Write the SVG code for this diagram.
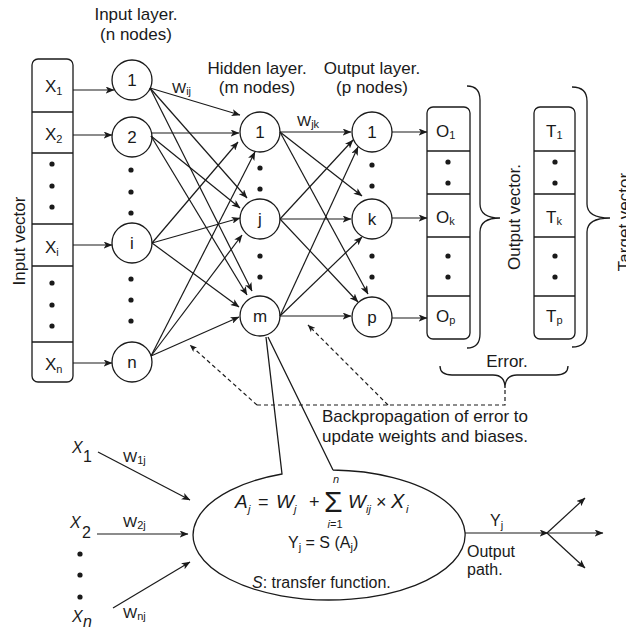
<svg xmlns="http://www.w3.org/2000/svg" width="626" height="631" viewBox="0 0 626 631">
<defs>
<style>
text{font-family:"Liberation Sans",Arial,Helvetica,sans-serif;fill:#1a1a1a}
.t17{font-size:17px}
.t16{font-size:16px}
.t15{font-size:15px}
.sub{font-size:11px}
.it{font-style:italic}
.mid{text-anchor:middle}
.node circle{fill:#fff;stroke:#1a1a1a;stroke-width:1.3}
.box rect{fill:#fff;stroke:#1a1a1a;stroke-width:1.3}
.box line{stroke:#1a1a1a;stroke-width:1.3}
.dot{fill:#1a1a1a}
.conn line,.conn path{stroke:#1a1a1a;stroke-width:1.2;fill:none}
.conn .a{marker-end:url(#ah)}
.dash{stroke-dasharray:4 3}
.brace{fill:none;stroke:#1a1a1a;stroke-width:1.3}
</style>
<marker id="ah" viewBox="0 0 10 8" refX="9.5" refY="4" markerWidth="9" markerHeight="7" markerUnits="userSpaceOnUse" orient="auto"><path d="M0,0 L10,4 L0,8 L2.5,4 z" fill="#1a1a1a"/></marker>
<marker id="ahs" viewBox="0 0 10 8" refX="9.5" refY="4" markerWidth="8" markerHeight="6" markerUnits="userSpaceOnUse" orient="auto"><path d="M0,0 L10,4 L0,8 L2.5,4 z" fill="#1a1a1a"/></marker>
</defs>
<rect width="626" height="631" fill="#fff"/>

<!-- Labels -->
<g id="labels">
<text class="t17 mid" x="136" y="20">Input layer.</text>
<text class="t17 mid" x="136" y="40">(n nodes)</text>
<text class="t17 mid" x="257" y="74">Hidden layer.</text>
<text class="t17 mid" x="257" y="93">(m nodes)</text>
<text class="t17 mid" x="372" y="74">Output layer.</text>
<text class="t17 mid" x="372" y="93">(p nodes)</text>
<text class="t17 mid" x="25" y="241" transform="rotate(-90 25 241)">Input vector</text>
<text class="t17 mid" x="520" y="217" transform="rotate(-90 520 217)">Output vector.</text>
<text class="t17 mid" x="630" y="222" transform="rotate(-90 630 222)">Target vector</text>
<text class="t17 mid" x="507" y="367">Error.</text>
<text class="t17" x="322" y="422">Backpropagation of error to</text>
<text class="t17" x="322" y="442">update weights and biases.</text>
<text class="t15" x="172" y="93">W<tspan class="sub" dy="2">ij</tspan></text>
<text class="t15" x="297" y="126">W<tspan class="sub" dy="2">jk</tspan></text>
</g>

<!-- Input vector -->
<g id="input-vector" class="box">
<rect x="32" y="59" width="41" height="323" rx="6"/>
<line x1="32" y1="112" x2="73" y2="112"/>
<line x1="32" y1="153" x2="73" y2="153"/>
<line x1="32" y1="224" x2="73" y2="224"/>
<line x1="32" y1="266" x2="73" y2="266"/>
<line x1="32" y1="342" x2="73" y2="342"/>
<text class="t17" x="45" y="92">X<tspan class="sub" dy="3">1</tspan></text>
<text class="t17" x="45" y="140">X<tspan class="sub" dy="3">2</tspan></text>
<text class="t17" x="45" y="253">X<tspan class="sub" dy="3">i</tspan></text>
<text class="t17" x="45" y="370">X<tspan class="sub" dy="3">n</tspan></text>
<circle class="dot" cx="52" cy="164" r="2.6"/><circle class="dot" cx="52" cy="186" r="2.6"/><circle class="dot" cx="52" cy="207" r="2.6"/>
<circle class="dot" cx="52" cy="283" r="2.6"/><circle class="dot" cx="52" cy="305" r="2.6"/><circle class="dot" cx="52" cy="326" r="2.6"/>
</g>

<!-- Input layer nodes -->
<g id="in-1" class="node"><circle cx="132" cy="80" r="20"/><text class="t17 mid" x="132" y="86">1</text></g>
<g id="in-2" class="node"><circle cx="132" cy="137" r="20"/><text class="t17 mid" x="132" y="143">2</text></g>
<g id="in-i" class="node"><circle cx="132" cy="243" r="20"/><text class="t17 mid" x="132" y="249">i</text></g>
<g id="in-n" class="node"><circle cx="132" cy="362" r="20"/><text class="t17 mid" x="132" y="368">n</text></g>
<g id="in-dots">
<circle class="dot" cx="131" cy="170" r="2.6"/><circle class="dot" cx="131" cy="192" r="2.6"/><circle class="dot" cx="131" cy="213" r="2.6"/>
<circle class="dot" cx="131" cy="279" r="2.6"/><circle class="dot" cx="131" cy="300" r="2.6"/><circle class="dot" cx="131" cy="321" r="2.6"/>
</g>

<!-- Hidden layer nodes -->
<g id="hid-1" class="node"><circle cx="260" cy="132" r="20"/><text class="t17 mid" x="260" y="138">1</text></g>
<g id="hid-j" class="node"><circle cx="260" cy="219" r="20"/><text class="t17 mid" x="260" y="225">j</text></g>
<g id="hid-m" class="node"><circle cx="260" cy="316" r="20"/><text class="t17 mid" x="260" y="322">m</text></g>
<g id="hid-dots">
<circle class="dot" cx="260" cy="168" r="2.6"/><circle class="dot" cx="260" cy="189" r="2.6"/>
<circle class="dot" cx="260" cy="256" r="2.6"/><circle class="dot" cx="260" cy="277" r="2.6"/>
</g>

<!-- Output layer nodes -->
<g id="out-1" class="node"><circle cx="372" cy="132" r="20"/><text class="t17 mid" x="372" y="138">1</text></g>
<g id="out-k" class="node"><circle cx="372" cy="219" r="20"/><text class="t17 mid" x="372" y="225">k</text></g>
<g id="out-p" class="node"><circle cx="372" cy="317" r="20"/><text class="t17 mid" x="372" y="323">p</text></g>
<g id="out-dots">
<circle class="dot" cx="372" cy="165" r="2.6"/><circle class="dot" cx="372" cy="186" r="2.6"/>
<circle class="dot" cx="372" cy="256" r="2.6"/><circle class="dot" cx="372" cy="277" r="2.6"/>
</g>

<!-- Output vector -->
<g id="output-vector" class="box">
<rect x="427" y="107" width="43" height="232" rx="6"/>
<line x1="427" y1="151" x2="470" y2="151"/>
<line x1="427" y1="194" x2="470" y2="194"/>
<line x1="427" y1="237" x2="470" y2="237"/>
<line x1="427" y1="296" x2="470" y2="296"/>
<text class="t17" x="436" y="137">O<tspan class="sub" dy="2">1</tspan></text>
<text class="t17" x="436" y="223">O<tspan class="sub" dy="2">k</tspan></text>
<text class="t17" x="436" y="322">O<tspan class="sub" dy="2">p</tspan></text>
<circle class="dot" cx="448" cy="162" r="2.6"/><circle class="dot" cx="448" cy="183" r="2.6"/>
<circle class="dot" cx="448" cy="256" r="2.6"/><circle class="dot" cx="448" cy="277" r="2.6"/>
</g>

<!-- Target vector -->
<g id="target-vector" class="box">
<rect x="534" y="107" width="41" height="232" rx="6"/>
<line x1="534" y1="151" x2="575" y2="151"/>
<line x1="534" y1="194" x2="575" y2="194"/>
<line x1="534" y1="237" x2="575" y2="237"/>
<line x1="534" y1="296" x2="575" y2="296"/>
<text class="t17" x="546" y="137">T<tspan class="sub" dy="2">1</tspan></text>
<text class="t17" x="546" y="223">T<tspan class="sub" dy="2">k</tspan></text>
<text class="t17" x="546" y="322">T<tspan class="sub" dy="2">p</tspan></text>
<circle class="dot" cx="555" cy="162" r="2.6"/><circle class="dot" cx="555" cy="183" r="2.6"/>
<circle class="dot" cx="555" cy="256" r="2.6"/><circle class="dot" cx="555" cy="277" r="2.6"/>
</g>

<!-- Braces -->
<g id="braces">
<path class="brace" d="M467,86 Q480,86 480,100 L480,204 Q480,218 500,218 Q480,218 480,232 L480,334 Q480,348 467,348"/>
<path class="brace" d="M572,87 Q587,87 587,101 L587,204 Q587,218 610,218 Q587,218 587,232 L587,333 Q587,347 572,347"/>
<path class="brace" d="M440,366 Q440,375 452,375 L493,375 Q505,375 505,388 Q505,375 517,375 L556,375 Q568,375 568,366"/>
</g>

<!-- Neuron detail -->
<g id="neuron">
<path d="M333,470 A136,65 0 1,1 282,474 L266,337 M268,337 L333,470" fill="none" stroke="#1a1a1a" stroke-width="1.3"/>
<text class="it" style="font-size:19px" x="235" y="508">A</text>
<text class="it sub" x="248" y="513">j</text>
<text style="font-size:18px" x="258" y="508">=</text>
<text class="it" style="font-size:19px" x="276" y="508">W</text>
<text class="it sub" x="294" y="513">j</text>
<text style="font-size:18px" x="309" y="508">+</text>
<text style="font-size:30px" x="324" y="512">Σ</text>
<text class="it sub mid" x="336" y="483">n</text>
<text class="sub mid" x="335" y="528"><tspan class="it">i</tspan>=1</text>
<text class="it" style="font-size:19px" x="348" y="508">W</text>
<text class="it sub" x="366" y="513">ij</text>
<text style="font-size:18px" x="376" y="508">×</text>
<text class="it" style="font-size:20px" x="391" y="508">X</text>
<text class="it sub" x="406" y="513">i</text>
<text class="t16" x="288" y="548">Y<tspan class="sub" dy="3">j</tspan><tspan dy="-3"> = S (A</tspan><tspan class="sub" dy="3">j</tspan><tspan dy="-3">)</tspan></text>
<text class="t16" x="252" y="588"><tspan class="it">S</tspan>: transfer function.</text>
<text class="t16" x="490" y="526">Y<tspan class="sub" dy="3">j</tspan></text>
<text class="t16" x="467" y="557">Output</text>
<text class="t16" x="467" y="575">path.</text>
</g>

<!-- Neuron inputs -->
<g id="neuron-inputs">
<text class="it t16" x="72" y="453">X</text><text class="t16" x="83" y="462">1</text>
<text class="it t16" x="70" y="528">X</text><text class="t16" x="82" y="538">2</text>
<text class="it t16" x="72" y="622">X</text><text class="it t16" x="83" y="627">n</text>
<circle class="dot" cx="80" cy="554" r="2.6"/><circle class="dot" cx="80" cy="575" r="2.6"/><circle class="dot" cx="80" cy="597" r="2.6"/>
<text class="t15" x="123" y="462">W<tspan class="sub" dy="2">1j</tspan></text>
<text class="t15" x="123" y="527">W<tspan class="sub" dy="2">2j</tspan></text>
<text class="t15" x="123" y="618">W<tspan class="sub" dy="2">nj</tspan></text>
</g>

<!-- Connectors -->
<g id="connectors" class="conn">
<line class="a" x1="73" y1="90" x2="114" y2="90"/>
<line class="a" x1="73" y1="135" x2="112" y2="135"/>
<line class="a" x1="73" y1="245" x2="112" y2="245"/>
<line class="a" x1="73" y1="363" x2="112" y2="363"/>

<line class="a" x1="150" y1="88" x2="240" y2="115"/>
<line class="a" x1="150" y1="88" x2="247" y2="198"/>
<line class="a" x1="150" y1="88" x2="252" y2="291"/>
<line class="a" x1="151" y1="133" x2="239" y2="133"/>
<line class="a" x1="151" y1="136" x2="240" y2="208"/>
<line class="a" x1="151" y1="136" x2="247" y2="295"/>
<line class="a" x1="152" y1="243" x2="238" y2="142"/>
<line class="a" x1="152" y1="243" x2="240" y2="218"/>
<line class="a" x1="152" y1="243" x2="239" y2="307"/>
<line class="a" x1="151" y1="356" x2="255" y2="152"/>
<line class="a" x1="151" y1="356" x2="242" y2="235"/>
<line class="a" x1="151" y1="356" x2="239" y2="317"/>

<line class="a" x1="280" y1="132" x2="351" y2="132"/>
<line class="a" x1="280" y1="132" x2="362" y2="196"/>
<line class="a" x1="280" y1="132" x2="368" y2="294"/>
<line class="a" x1="280" y1="219" x2="353" y2="140"/>
<line class="a" x1="280" y1="219" x2="351" y2="219"/>
<line class="a" x1="280" y1="219" x2="358" y2="302"/>
<line class="a" x1="280" y1="316" x2="358" y2="147"/>
<line class="a" x1="280" y1="316" x2="362" y2="237"/>
<line class="a" x1="280" y1="316" x2="351" y2="316"/>

<line class="a" x1="392" y1="132" x2="427" y2="132"/>
<line class="a" x1="392" y1="218" x2="427" y2="218"/>
<line class="a" x1="392" y1="318" x2="427" y2="318"/>

<path class="dash" d="M505,390 L505,405 L257,405"/>
<line class="dash" x1="257" y1="405" x2="190" y2="345" style="marker-end:url(#ahs)"/>
<line class="dash" x1="388" y1="405" x2="308" y2="325" style="marker-end:url(#ahs)"/>

<line class="a" x1="98" y1="452" x2="190" y2="500"/>
<line class="a" x1="97" y1="534" x2="188" y2="534"/>
<line class="a" x1="113" y1="608" x2="190" y2="562"/>

<line class="a" x1="465" y1="533" x2="548" y2="533"/>
<line class="a" x1="547" y1="533" x2="585" y2="498"/>
<line class="a" x1="547" y1="533" x2="603" y2="533"/>
<line class="a" x1="547" y1="533" x2="585" y2="568"/>
</g>
</svg>
